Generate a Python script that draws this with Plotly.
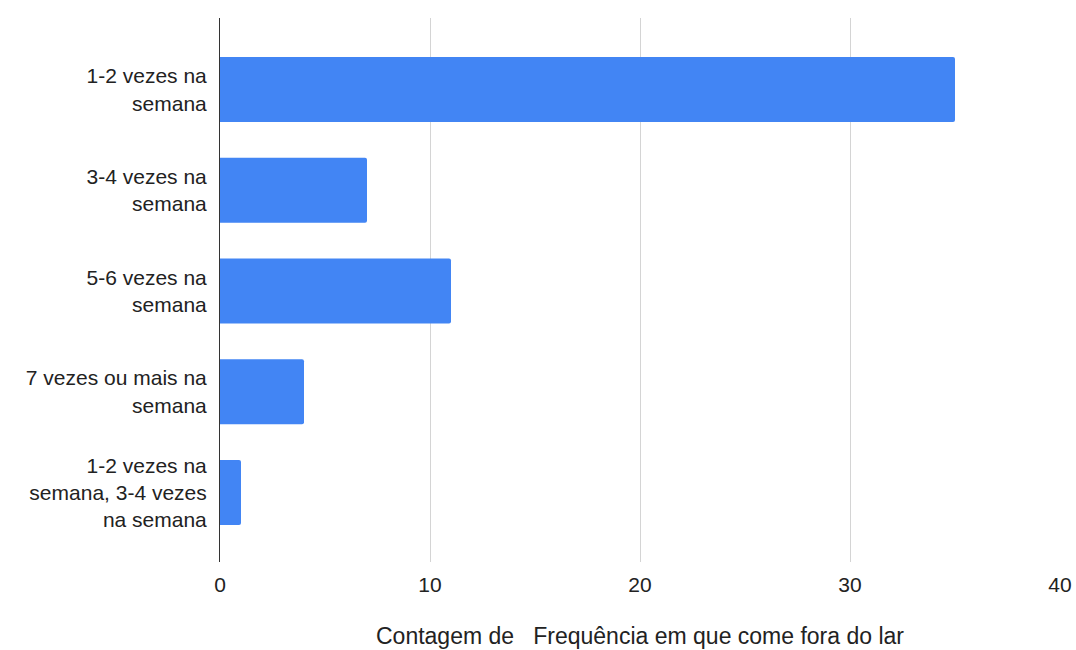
import plotly.graph_objects as go

categories = [
    "1-2 vezes na<br>semana",
    "3-4 vezes na<br>semana",
    "5-6 vezes na<br>semana",
    "7 vezes ou mais na<br>semana",
    "1-2 vezes na<br>semana, 3-4 vezes<br>na semana",
]
counts = [35, 7, 11, 4, 1]
x_ticks = [0, 10, 20, 30, 40]
x_title = "Contagem de &nbsp; Frequência em que come fora do lar"

fig = go.Figure(
    go.Bar(
        x=counts,
        y=categories,
        orientation="h",
        marker=dict(color="#4285F4", line=dict(width=0), cornerradius=2),
        width=0.645,
    )
)

fam = "Liberation Sans, Arial, sans-serif"
tick_font = dict(family=fam, size=21, color="#222222")
title_font = dict(family=fam, size=23, color="#222222")

fig.update_layout(
    width=1076,
    height=650,
    margin=dict(l=220, r=16, t=18, b=88, autoexpand=False),
    paper_bgcolor="white",
    plot_bgcolor="white",
    showlegend=False,
    font=tick_font,
)
fig.update_xaxes(
    range=[0, 40],
    tickvals=x_ticks,
    showgrid=True,
    gridcolor="#d4d4d4",
    gridwidth=1,
    zeroline=False,
    showline=False,
    ticks="",
    ticklabelstandoff=8,
    automargin=False,
    title=dict(text=x_title, standoff=32, font=title_font),
    tickfont=tick_font,
)
fig.update_yaxes(
    range=[4.69, -0.71],
    showgrid=False,
    zeroline=False,
    showline=True,
    linecolor="#333333",
    linewidth=1,
    ticks="",
    ticklabelstandoff=8,
    automargin=False,
    tickfont=tick_font,
)

fig.write_html("out.html")
